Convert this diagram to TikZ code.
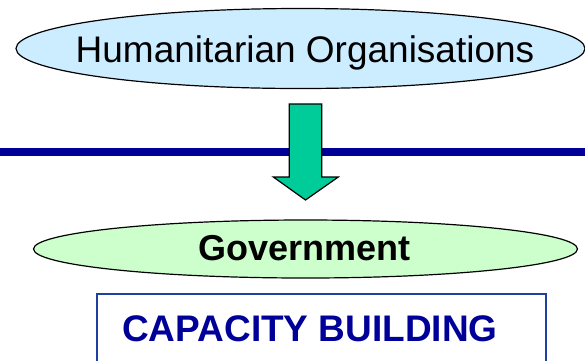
\documentclass[tikz,border=0pt]{standalone}
\usepackage{fontspec}
\setmainfont{Liberation Sans}
\usetikzlibrary{shapes.geometric}
\definecolor{hoblue}{HTML}{CCECFF}
\definecolor{govgreen}{HTML}{CCFFCC}
\definecolor{navy}{HTML}{000099}
\definecolor{boxblue}{RGB}{30,64,160}
\definecolor{arrowgreen}{HTML}{00CC99}
\tikzset{
  oval/.style={ellipse, draw=black, line width=1.2pt, inner sep=0pt},
  labeltext/.style={anchor=base, inner sep=0pt},
  capbox/.style={draw=boxblue, line width=2pt, rectangle, inner sep=0pt},
  fatarrow/.style={fill=arrowgreen, draw=black, line width=1.2pt, line join=miter},
  divider/.style={draw=navy, line width=8pt}
}
\begin{document}
\begin{tikzpicture}[x=1pt,y=-1pt]
\useasboundingbox (0,0) rectangle (585,360);
\clip (0,0) rectangle (585,360);
% divider line
\coordinate (lineL) at (-5,152);
\coordinate (lineR) at (590,152);
\draw[divider] (lineL) -- (lineR);
% nodes
\node[oval, fill=hoblue, minimum width=569pt, minimum height=80pt] (ho) at (300.5,48.5) {};
\node[labeltext, font=\fontsize{37}{40}\selectfont] (hotext) at (305,62) {Humanitarian Organisations};
\node[oval, fill=govgreen, minimum width=544pt, minimum height=58pt] (gov) at (305.5,249) {};
\node[labeltext, font=\fontsize{36}{40}\selectfont\bfseries] (govtext) at (304.7,260) {Government};
\node[capbox, minimum width=449pt, minimum height=100pt] (cap) at (321.2,344) {};
\node[labeltext, text=navy, font=\fontsize{37}{40}\selectfont\bfseries] (captext) at (310,341.7) {CAPACITY BUILDING};
% arrow
\draw[fatarrow] (289.3,104) -- (321.7,104) -- (321.7,177) -- (338.3,177) -- (305.5,200) -- (273.3,177) -- (289.3,177) -- cycle;
\end{tikzpicture}
\end{document}
